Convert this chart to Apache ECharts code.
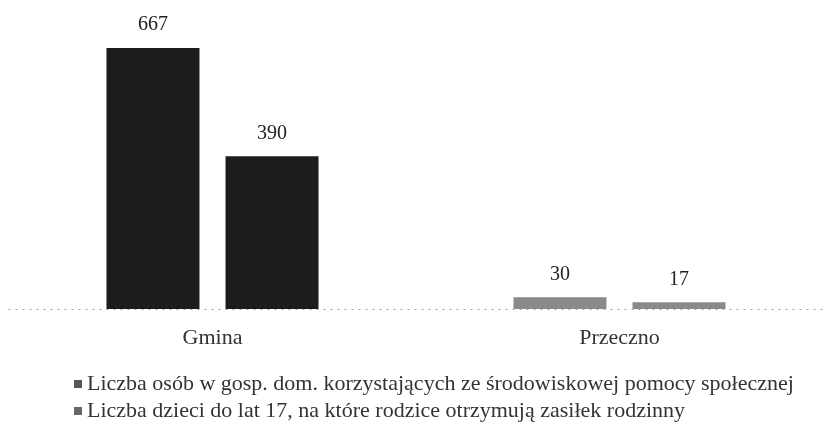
<!DOCTYPE html>
<html>
<head>
<meta charset="utf-8">
<script src="https://cdn.jsdelivr.net/npm/echarts@6/dist/echarts.min.js"></script>
<style>
    html, body { margin: 0; padding: 0; background: #fff; }
    #chart { width: 823px; height: 439px; }
</style>
</head>
<body>
<div id="chart"></div>
<script>
    var categories = ['Gmina', 'Przeczno']
    var seriesNames = [
        'Liczba osób w gosp. dom. korzystających ze środowiskowej pomocy społecznej',
        'Liczba dzieci do lat 17, na które rodzice otrzymują zasiłek rodzinny'
    ]
    var osobyPomoc = [667, 30]
    var dzieciZasilek = [390, 17]

    var font = 'Liberation Serif'
    // Gmina bars print almost black, the thin Przeczno ones come out grey
    var barColors = ['#1c1c1c', '#8a8a8a']

    function toItems(values) {
        return values.map(function (v, i) {
            return { value: v, itemStyle: { color: barColors[i] } }
        })
    }

    var valueLabel = {
        show: true,
        position: 'top',
        distance: 13,
        fontFamily: font,
        fontSize: 20,
        color: '#222'
    }

    var chart = echarts.init(document.getElementById('chart'))
    chart.setOption({
        animation: false,
        grid: {
            left: 9,
            right: -13,
            top: 35,
            bottom: 130
        },
        legend: {
            orient: 'vertical',
            left: 69,
            top: 368,
            itemWidth: 8,
            itemHeight: 8,
            itemGap: 5,
            icon: 'rect',
            data: seriesNames,
            textStyle: {
                fontFamily: font,
                fontSize: 22,
                color: '#333'
            }
        },
        xAxis: {
            type: 'category',
            data: categories,
            axisTick: { show: false },
            axisLine: {
                lineStyle: { color: '#999', type: [1, 6], width: 1 }
            },
            axisLabel: {
                margin: 18,
                fontFamily: font,
                fontSize: 22,
                color: '#333'
            }
        },
        yAxis: {
            type: 'value',
            min: 0,
            max: 700,
            show: false
        },
        series: [
            {
                name: seriesNames[0],
                type: 'bar',
                barWidth: 93,
                barGap: '28%',
                itemStyle: { color: '#555' },
                label: valueLabel,
                data: toItems(osobyPomoc)
            },
            {
                name: seriesNames[1],
                type: 'bar',
                barWidth: 93,
                itemStyle: { color: '#666' },
                label: valueLabel,
                data: toItems(dzieciZasilek)
            }
        ]
    })
</script>
</body>
</html>
